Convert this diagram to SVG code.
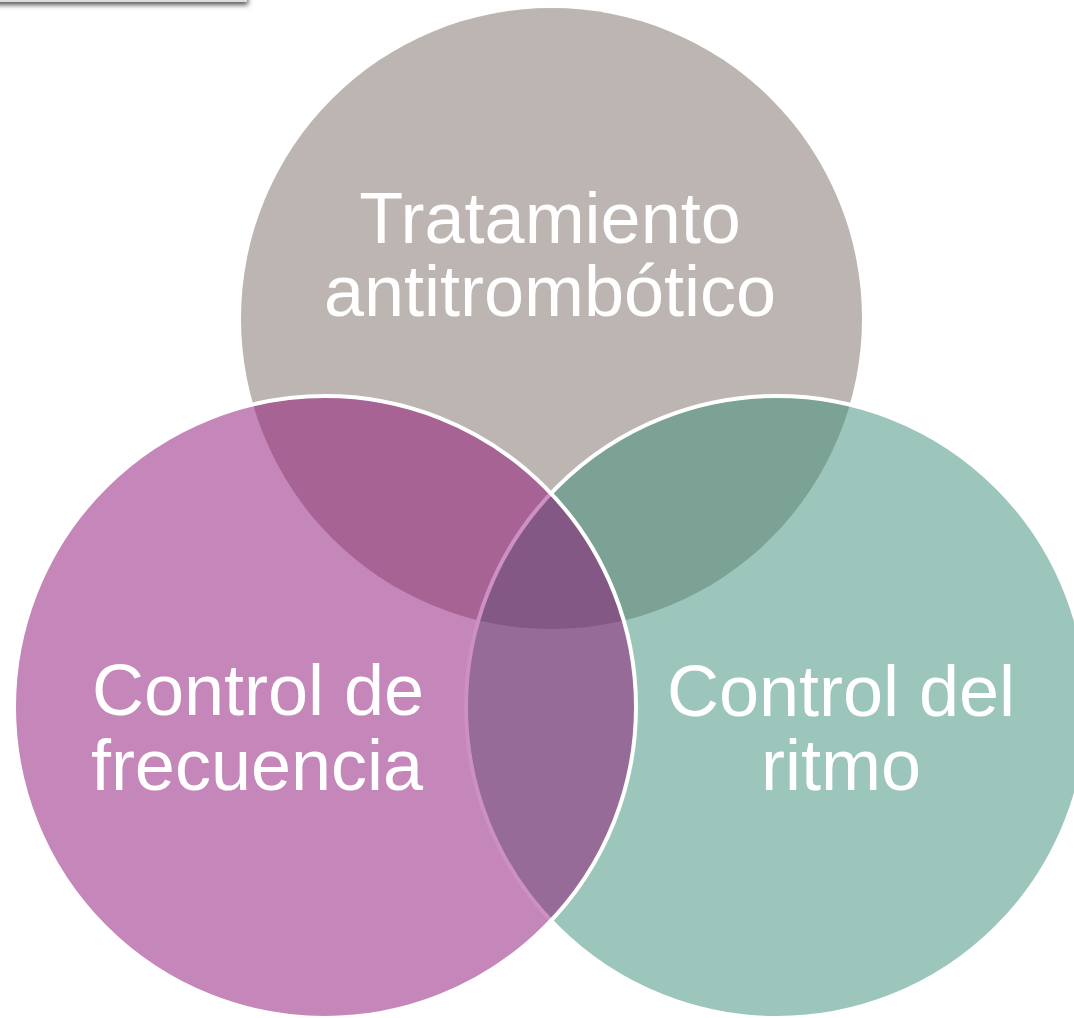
<svg xmlns="http://www.w3.org/2000/svg" width="1074" height="1018" viewBox="0 0 1074 1018">
  <style>
    .lbl { font-family: "Liberation Sans", Arial, sans-serif; font-size: 72px; fill: #ffffff; text-anchor: middle; }
    .edge { fill: none; stroke: #ffffff; stroke-width: 4; }
  </style>
  <defs>
    <clipPath id="clipT"><circle cx="551.5" cy="318.5" r="310.5"/></clipPath>
    <clipPath id="clipR"><circle cx="777" cy="707" r="311"/></clipPath>
    <clipPath id="clipL"><circle cx="325" cy="707" r="311"/></clipPath>
    <filter id="shadow" x="-10%" y="-50%" width="120%" height="250%">
      <feGaussianBlur in="SourceAlpha" stdDeviation="2.5"/>
      <feOffset dx="1" dy="3" result="b"/>
      <feFlood flood-color="#3a3a3a" flood-opacity="0.85"/>
      <feComposite in2="b" operator="in"/>
      <feMerge><feMergeNode/><feMergeNode in="SourceGraphic"/></feMerge>
    </filter>
  </defs>
  <rect width="1074" height="1018" fill="#ffffff"/>
  <rect x="-20" y="-30" width="267" height="32" fill="#dcdcdc" filter="url(#shadow)"/>

  <g id="node-tratamiento">
    <circle cx="551.5" cy="318.5" r="310.5" fill="#bcb5b1"/>
  </g>

  <g id="node-ritmo">
    <circle cx="777" cy="707" r="311" fill="#9cc5bb"/>
    <circle cx="777" cy="707" r="311" fill="#7ba294" clip-path="url(#clipT)"/>
    <circle class="edge" cx="777" cy="707" r="311"/>
  </g>

  <g id="node-frecuencia">
    <circle cx="325" cy="707" r="311" fill="#c586b9"/>
    <circle cx="325" cy="707" r="311" fill="#a66393" clip-path="url(#clipT)"/>
    <g clip-path="url(#clipR)">
      <circle cx="325" cy="707" r="311" fill="#966b98"/>
      <circle cx="325" cy="707" r="311" fill="#835885" clip-path="url(#clipT)"/>
    </g>
    <circle cx="777" cy="707" r="311" fill="none" stroke="#cc90c2" stroke-width="4" clip-path="url(#clipL)"/>
    <circle class="edge" cx="325" cy="707" r="311"/>
  </g>

  <g id="labels">
    <text class="lbl" x="550" y="243">Tratamiento</text>
    <text class="lbl" x="550" y="316">antitrombótico</text>
    <text class="lbl" x="258" y="715">Control de</text>
    <text class="lbl" x="257" y="790">frecuencia</text>
    <text class="lbl" x="841" y="716">Control del</text>
    <text class="lbl" x="841" y="790">ritmo</text>
  </g>

  <g id="connectors"></g>
</svg>
